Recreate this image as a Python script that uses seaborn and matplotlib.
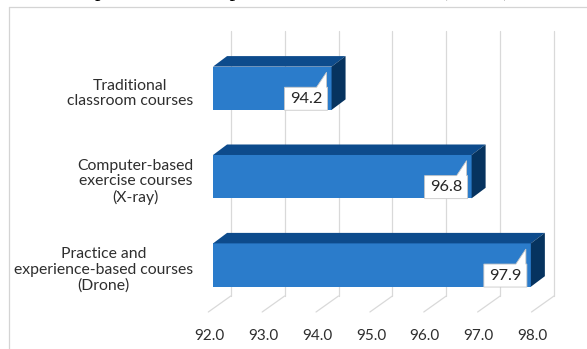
import matplotlib
matplotlib.use("Agg")
import matplotlib.pyplot as plt
import seaborn as sns
import pandas as pd
from matplotlib.patches import Polygon
from matplotlib.lines import Line2D
from matplotlib.transforms import ScaledTranslation, IdentityTransform

# ---------------- data ----------------
categories = ["Traditional\nclassroom courses",
              "Computer-based\nexercise courses\n(X-ray)",
              "Practice and\nexperience-based courses\n(Drone)"]
values = [94.2, 96.8, 97.9]
xticks = [92.0, 93.0, 94.0, 95.0, 96.0, 97.0, 98.0]
tick_labels = ["92.0", "93.0", "94.0", "95.0", "96.0", "97.0", "98.0"]
title_text = "practice and experience-based courses (Drone) with"

# ---------------- style ----------------
sns.set_theme(style="white")
plt.rcParams['font.family'] = ['Lato', 'DejaVu Sans']

FRONT = "#2B7CCB"
TOP = "#0D4B8C"
SIDE = "#06335F"
GRID = "#D9D9D9"
TXT = "#2E2E2E"

W, H, DPI = 587, 349, 100
fig = plt.figure(figsize=(W / DPI, H / DPI), dpi=DPI)
fig.patch.set_facecolor("white")

# front plane of the 3-D plot area (pixels from top-left)
L, R, T, B = 209.3, 532.5, 46.8, 312.0
ax = fig.add_axes([L / W, 1 - B / H, (R - L) / W, (B - T) / H])
ax.set_facecolor("none")

df = pd.DataFrame({"course": categories, "score": values})
sns.barplot(data=df, x="score", y="course", orient="h", color=FRONT,
            saturation=1, width=0.49, ax=ax, zorder=3, errorbar=None)

ax.set_xlim(xticks[0], xticks[-1])
ax.set_xticks(xticks)
ax.set_xticklabels(tick_labels)
ax.set_xlabel("")
ax.set_ylabel("")
for s in ax.spines.values():
    s.set_visible(False)
ax.grid(False)
ax.tick_params(axis="x", length=0, pad=12, labelsize=11, labelcolor=TXT)
ax.tick_params(axis="y", length=0, pad=11.5, labelsize=11.3, labelcolor=TXT)
for lab in ax.get_yticklabels():
    lab.set_multialignment("center")
    lab.set_linespacing(1.15)

ylo, yhi = ax.get_ylim()  # (n-0.5, -0.5) inverted

# ---------------- back wall grid + floor diagonals ----------------
WALL = (21.5, 16.0)
for t in xticks:
    fx, fy = ax.transData.transform((t, ylo))
    _, ty = ax.transData.transform((t, yhi))
    bx, by = fx + WALL[0], fy + WALL[1]
    fig.add_artist(Line2D([bx, bx], [by, ty + WALL[1]], color=GRID, lw=0.9,
                          transform=IdentityTransform(), zorder=0))
    fig.add_artist(Line2D([fx - 1, bx], [fy, by], color=GRID, lw=0.9,
                          transform=IdentityTransform(), zorder=0))

# ---------------- 3-D bars ----------------
OFF = (3.75, 2.75)
DEPTH = (14.0, 10.5)
off_t = ax.transData + ScaledTranslation(OFF[0] / DPI, OFF[1] / DPI, fig.dpi_scale_trans)
for p, v in zip(ax.patches, values):
    p.set_x(xticks[0])
    p.set_width(v - xticks[0])
    p.set_transform(off_t)
    p.set_clip_on(False)
    p.set_edgecolor("none")
    y0, y1 = p.get_y(), p.get_y() + p.get_height()
    (xl, ya), (xr, yb) = off_t.transform([(xticks[0], y0), (v, y1)])
    top, bot = max(ya, yb), min(ya, yb)
    dx, dy = DEPTH
    top_face = Polygon([(xl, top), (xr, top), (xr + dx, top + dy), (xl + dx, top + dy)],
                       closed=True, facecolor=TOP, edgecolor="none",
                       transform=IdentityTransform(), zorder=3)
    side_face = Polygon([(xr, top), (xr + dx, top + dy), (xr + dx, bot + dy), (xr, bot)],
                        closed=True, facecolor=SIDE, edgecolor="none",
                        transform=IdentityTransform(), zorder=3)
    fig.add_artist(top_face)
    fig.add_artist(side_face)

    # callout data label
    cy = (top + bot) / 2
    bw, bh = 43, 23
    rgt = xr - 4
    lft = rgt - bw
    btop = cy + 1
    bbot = btop - bh
    callout = Polygon([(lft, bbot), (rgt, bbot), (rgt, btop), (rgt - 1, btop),
                       (rgt - 1, btop + 15), (rgt - 11, btop), (lft, btop)],
                      closed=True, facecolor="white", edgecolor="#C8C8C8", lw=0.6,
                      transform=IdentityTransform(), zorder=5)
    fig.add_artist(callout)
    fig.text((lft + rgt) / 2 / W, (btop + bbot) / 2 / H, f"{v:.1f}",
             ha="center", va="center", fontsize=11.8, color="#262626", zorder=6)

# ---------------- outer chart frame ----------------
fig.add_artist(Line2D([9, 9], [0, H - 7], color="#D4D4D4", lw=0.9,
                      transform=IdentityTransform()))
fig.add_artist(Line2D([9, W], [H - 7, H - 7], color="#D4D4D4", lw=0.9,
                      transform=IdentityTransform()))

# ---------------- cropped caption at the very top ----------------
renderer = fig.canvas.get_renderer()
probe = fig.text(0, 0, "practice and experience-based courses ", family="Liberation Serif",
                 fontsize=16)
pw = probe.get_window_extent(renderer).width
probe.remove()
fig.text((440 - pw) / W, (H + 3.5) / H, title_text, family="Liberation Serif",
         fontsize=16, color="black", ha="left", va="baseline")

fig.savefig("out.png", dpi=DPI)
